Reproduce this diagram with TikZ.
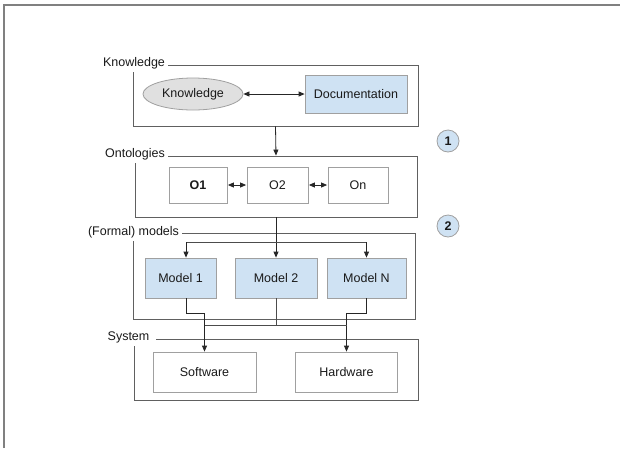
\documentclass[tikz,border=0pt]{standalone}
\usepackage{fontspec}
\setmainfont{Liberation Sans}
\usetikzlibrary{arrows.meta,shapes.geometric,calc}
\definecolor{boxblue}{HTML}{CFE2F3}
\definecolor{boxgray}{HTML}{E0E0E0}
\definecolor{edgegray}{HTML}{A0A0A0}
\definecolor{framegray}{HTML}{606060}
\definecolor{txt}{HTML}{1A1A1A}
\tikzset{
  every node/.style={font=\fontsize{12.5}{15}\selectfont, text=txt},
  grpframe/.style={draw=framegray, line width=0.9pt, rectangle, inner sep=0pt},
  grplabel/.style={fill=white, inner sep=3pt},
  plainbox/.style={draw=edgegray, line width=0.8pt, rectangle, inner sep=0pt, fill=white},
  bluebox/.style={plainbox, fill=boxblue},
  arr/.style={draw=black!85, line width=0.8pt, -{Triangle[length=6pt,width=5pt]}},
  darr/.style={draw=black!85, line width=0.8pt, {Triangle[length=6pt,width=5pt]}-{Triangle[length=6pt,width=5pt]}},
  conn/.style={draw=black!70, line width=0.8pt},
  numcirc/.style={circle, draw=edgegray, fill=boxblue, line width=0.8pt, minimum size=22pt, inner sep=0pt, font=\fontsize{12.5}{15}\selectfont\bfseries}
}
\begin{document}
\begin{tikzpicture}[x=1pt,y=-1pt]
\useasboundingbox (0,0) rectangle (620,448);
\fill[white] (0,0) rectangle (620,448);
% outer frame (top and left edges)
\draw[draw=gray, line width=1.2pt] (4,448) -- (4,5) -- (620,5);

% group frames
\node[grpframe, minimum width=285pt, minimum height=61pt] (kf) at (275.5,95.5) {};
\node[grpframe, minimum width=282pt, minimum height=61pt] (of) at (276,186.5) {};
\node[grpframe, minimum width=282pt, minimum height=86pt] (mf) at (274,276) {};
\node[grpframe, minimum width=284pt, minimum height=61pt] (sf) at (276,369.5) {};

% group labels
\node[grplabel] (kl) at (134,63) {Knowledge};
\node[grplabel] (ol) at (135,154) {Ontologies};
\node[grplabel] (ml) at (133.5,232) {(Formal) models};
\node[grplabel, inner xsep=7pt] (sl) at (128.5,337) {System};

% Knowledge group
\node[ellipse, draw=edgegray, fill=boxgray, line width=0.8pt, minimum width=100pt, minimum height=32pt, inner sep=0pt] (kn) at (193,94) {Knowledge};
\node[bluebox, minimum width=102pt, minimum height=38pt] (doc) at (356,94) {Documentation};
\draw[darr] (kn) -- (doc);

% Ontologies group
\node[plainbox, minimum width=58pt, minimum height=36pt, font=\fontsize{12.5}{15}\selectfont\bfseries] (o1) at (198,185) {O1};
\node[plainbox, minimum width=61pt, minimum height=36pt] (o2) at (277.5,185) {O2};
\node[plainbox, minimum width=60pt, minimum height=36pt] (on) at (358,185) {On};
\draw[darr, shorten <=0.5pt, shorten >=0.5pt] (o1) -- (o2);
\draw[darr, shorten <=0.5pt, shorten >=0.5pt] (o2) -- (on);

% Models group
\node[bluebox, minimum width=71pt, minimum height=40pt] (m1) at (180.5,278) {Model 1};
\node[bluebox, minimum width=82pt, minimum height=40pt] (m2) at (276,278) {Model 2};
\node[bluebox, minimum width=79pt, minimum height=40pt] (mn) at (366.5,278) {Model N};

% System group
\node[plainbox, minimum width=103pt, minimum height=40pt] (sw) at (204.5,372) {Software};
\node[plainbox, minimum width=102pt, minimum height=40pt] (hw) at (346.5,372) {Hardware};

% numbered circles
\node[numcirc] (c1) at (448,141) {1};
\node[numcirc] (c2) at (448,226) {2};

% connectors between groups
\draw[arr] (kf.south) -- (of.north);
\coordinate (b1) at (186,242);
\coordinate (bn) at (366.5,242);
\coordinate (y1) at (0,313);
\coordinate (y2) at (0,325);
\draw[arr] (of.south) -- (m2.north);
\draw[conn] (b1) -- (bn);
\draw[arr] (b1) -- (b1 |- m1.north);
\draw[arr] (bn) -- (bn |- mn.north);

\draw[arr] (b1 |- m1.south) |- (sw.north |- y1) -- (sw.north);
\draw[arr] (bn |- mn.south) |- (hw.north |- y1) -- (hw.north);
\draw[conn] (m2.south) -- (m2.south |- y2);
\draw[conn] (sw.north |- y2) -- (hw.north |- y2);
\end{tikzpicture}
\end{document}
